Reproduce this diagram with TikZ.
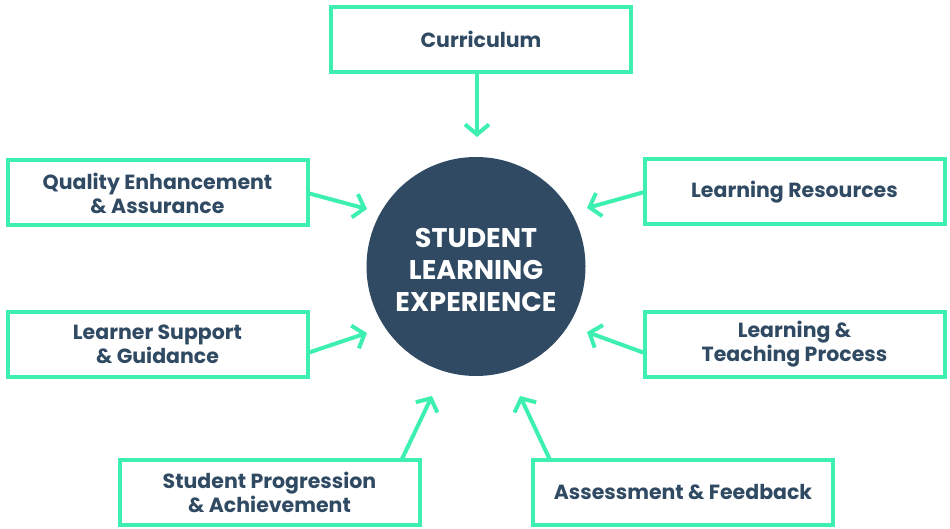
\documentclass[tikz,border=0pt]{standalone}
\usepackage{fontspec}
\setmainfont{Poppins}
\usepackage{tikz}
\usetikzlibrary{arrows.meta}
\definecolor{sleGreen}{HTML}{3DF0B0}
\definecolor{sleNavy}{HTML}{2F4A62}
\tikzset{area box/.style={draw=sleGreen,line width=4pt,minimum width=300pt,minimum height=65pt,inner sep=1mm,outer sep=0pt,text=sleNavy,align=center,font=\bfseries\fontsize{20.5}{24}\selectfont}}
\tikzset{hub node/.style={circle,fill=sleNavy,minimum size=219pt,inner sep=0pt,outer sep=0pt}}
\tikzset{hub text/.style={inner sep=0pt,text=white,align=center,font=\bfseries\fontsize{27}{32}\selectfont}}
\tikzset{feed/.style={draw=sleGreen,line width=4pt,-{Straight Barb[length=10pt,width=24pt]}}}

\begin{document}
\begin{tikzpicture}[x=1pt,y=-1pt]
                    \useasboundingbox (0,0) rectangle (950,529);
                    \node[hub node](H) at (476,266.5){};
                    \node[hub text](HT) at (476,269.5){STUDENT\\LEARNING\\EXPERIENCE};

                    \node[area box](B1) at (481,39.5){Curriculum};
                    \node[area box](B2) at (157.5,193){Quality Enhancement\\\& Assurance};
                    \node[area box](B3) at (157.5,344){Learner Support\\\& Guidance};
                    \node[area box](B4) at (794.5,192){Learning Resources};
                    \node[area box](B5) at (794.5,344){Learning \&\\Teaching Process};
                    \node[area box](B6) at (269.5,492.5){Student Progression\\\& Achievement};
                    \node[area box](B7) at (683,492.5){Assessment \& Feedback};

                    \coordinate (T1) at (477,137);
                    \coordinate (T2) at (367,209);
                    \coordinate (T3) at (367,333);
                    \coordinate (T4) at (587,208);
                    \coordinate (T5) at (587,332);
                    \coordinate (T6) at (432,396);
                    \coordinate (T7) at (520,396);

                    \draw[feed] ([xshift=-4pt]B1.south) -- (T1);
                    \draw[feed] (B2.east) -- (T2);
                    \draw[feed] ([yshift=-9pt]B3.east) -- (T3);
                    \draw[feed] (B4.west) -- (T4);
                    \draw[feed] ([yshift=-9pt]B5.west) -- (T5);
                    \draw[feed] ([xshift=132pt]B6.north) -- (T6);
                    \draw[feed] ([xshift=-133pt]B7.north) -- (T7);

                \end{tikzpicture}
\end{document}
